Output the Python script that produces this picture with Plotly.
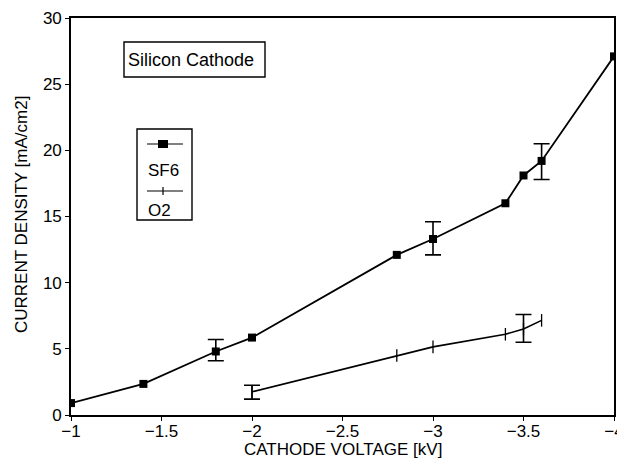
import plotly.graph_objects as go

# ---- data ----
sf6_v = [-1.0, -1.4, -1.8, -2.0, -2.8, -3.0, -3.4, -3.5, -3.6, -4.0]
sf6_j = [0.9, 2.35, 4.8, 5.85, 12.1, 13.3, 16.0, 18.1, 19.2, 27.1]
sf6_err_v = [-1.8, -3.0, -3.6]
sf6_err_c = [4.8, 13.3, 19.2]
sf6_err_hi = [0.9, 1.3, 1.3]
sf6_err_lo = [0.7, 1.2, 1.4]

o2_v = [-2.0, -2.8, -3.0, -3.4, -3.5, -3.6]
o2_j = [1.75, 4.5, 5.15, 6.1, 6.5, 7.15]
o2_err_v = [-2.0, -3.5]
o2_err_c = [1.75, 6.5]
o2_err_hi = [0.5, 1.1]
o2_err_lo = [0.55, 1.0]

x_ticks = [-1, -1.5, -2, -2.5, -3, -3.5, -4]
x_labels = ["\u22121", "\u22121.5", "\u22122", "\u22122.5", "\u22123", "\u22123.5", "\u22124"]
y_ticks = [0, 5, 10, 15, 20, 25, 30]

FONT = "Liberation Sans, Arial, sans-serif"

fig = go.Figure()

fig.add_trace(go.Scatter(
    x=sf6_v, y=sf6_j, mode="lines+markers", name="SF6",
    line=dict(color="black", width=1.8),
    marker=dict(symbol="square", size=8, color="black"),
))
fig.add_trace(go.Scatter(
    x=o2_v, y=o2_j, mode="lines+markers", name="O2",
    line=dict(color="black", width=1.6),
    marker=dict(symbol="line-ns", size=9, line=dict(color="black", width=1.3)),
))
# error bars
fig.add_trace(go.Scatter(
    x=sf6_err_v, y=sf6_err_c, mode="markers", showlegend=False,
    marker=dict(size=1, color="rgba(0,0,0,0)"),
    error_y=dict(type="data", symmetric=False, array=sf6_err_hi, arrayminus=sf6_err_lo,
                 color="black", thickness=1.6, width=8),
))
fig.add_trace(go.Scatter(
    x=o2_err_v, y=o2_err_c, mode="markers", showlegend=False,
    marker=dict(size=1, color="rgba(0,0,0,0)"),
    error_y=dict(type="data", symmetric=False, array=o2_err_hi, arrayminus=o2_err_lo,
                 color="black", thickness=1.6, width=8),
))

W, H = 617, 458
ml, mr, mt, mb = 71, 3, 18, 43
pw, ph = W - ml - mr, H - mt - mb

def px(xp):
    return (xp - ml) / pw

def py(yp):
    return 1 - (yp - mt) / ph

shapes = []
annotations = []

# "Silicon Cathode" box
shapes.append(dict(type="rect", xref="paper", yref="paper",
                   x0=px(124), x1=px(265), y0=py(77), y1=py(42),
                   line=dict(color="black", width=1.4)))
annotations.append(dict(xref="paper", yref="paper", x=px(191), y=py(59.5),
                        xanchor="center", yanchor="middle",
                        text="Silicon Cathode", showarrow=False,
                        font=dict(family=FONT, size=18, color="black")))

# custom legend (sample above label, as in original)
shapes.append(dict(type="rect", xref="paper", yref="paper",
                   x0=px(137), x1=px(192), y0=py(220), y1=py(129),
                   line=dict(color="black", width=1.4)))
shapes.append(dict(type="line", xref="paper", yref="paper",
                   x0=px(147), x1=px(183), y0=py(144), y1=py(144),
                   line=dict(color="black", width=1.2)))
shapes.append(dict(type="rect", xref="paper", yref="paper",
                   x0=px(158), x1=px(168), y0=py(148), y1=py(140),
                   fillcolor="black", line=dict(color="black", width=0)))
shapes.append(dict(type="line", xref="paper", yref="paper",
                   x0=px(147), x1=px(183), y0=py(191), y1=py(191),
                   line=dict(color="black", width=1.2)))
shapes.append(dict(type="line", xref="paper", yref="paper",
                   x0=px(163), x1=px(163), y0=py(187), y1=py(195),
                   line=dict(color="black", width=1.2)))
annotations.append(dict(xref="paper", yref="paper", x=px(146), y=py(170),
                        xanchor="left", yanchor="middle", text="SF6", showarrow=False,
                        font=dict(family=FONT, size=17, color="black")))
annotations.append(dict(xref="paper", yref="paper", x=px(146), y=py(210),
                        xanchor="left", yanchor="middle", text="O2", showarrow=False,
                        font=dict(family=FONT, size=17, color="black")))

# axis titles
annotations.append(dict(xref="paper", yref="paper", x=px(343), y=py(449),
                        xanchor="center", yanchor="middle", text="CATHODE VOLTAGE [kV]",
                        showarrow=False, font=dict(family=FONT, size=17, color="black")))
annotations.append(dict(xref="paper", yref="paper", x=px(21), y=py(215),
                        xanchor="center", yanchor="middle", textangle=-90,
                        text="CURRENT DENSITY [mA/cm2]",
                        showarrow=False, font=dict(family=FONT, size=17, color="black")))

fig.update_layout(
    width=W, height=H,
    margin=dict(l=ml, r=mr, t=mt, b=mb),
    paper_bgcolor="white", plot_bgcolor="white",
    showlegend=False,
    font=dict(family=FONT, color="black"),
    shapes=shapes, annotations=annotations,
)
fig.update_xaxes(
    range=[-1, -4], tickvals=x_ticks, ticktext=x_labels,
    ticks="outside", ticklen=4, tickwidth=1.2, tickcolor="black",
    ticklabeloverflow="allow", automargin=False, ticklabelstandoff=-4,
    showline=True, linecolor="black", linewidth=1.6, mirror=True,
    showgrid=False, zeroline=False,
    tickfont=dict(family=FONT, size=17, color="black"),
)
fig.update_yaxes(
    range=[0, 30], tickvals=y_ticks, automargin=False,
    ticks="outside", ticklen=4, tickwidth=1.2, tickcolor="black",
    showline=True, linecolor="black", linewidth=1.6, mirror=True,
    showgrid=False, zeroline=False,
    tickfont=dict(family=FONT, size=17, color="black"),
)

fig.write_html("out.html")
